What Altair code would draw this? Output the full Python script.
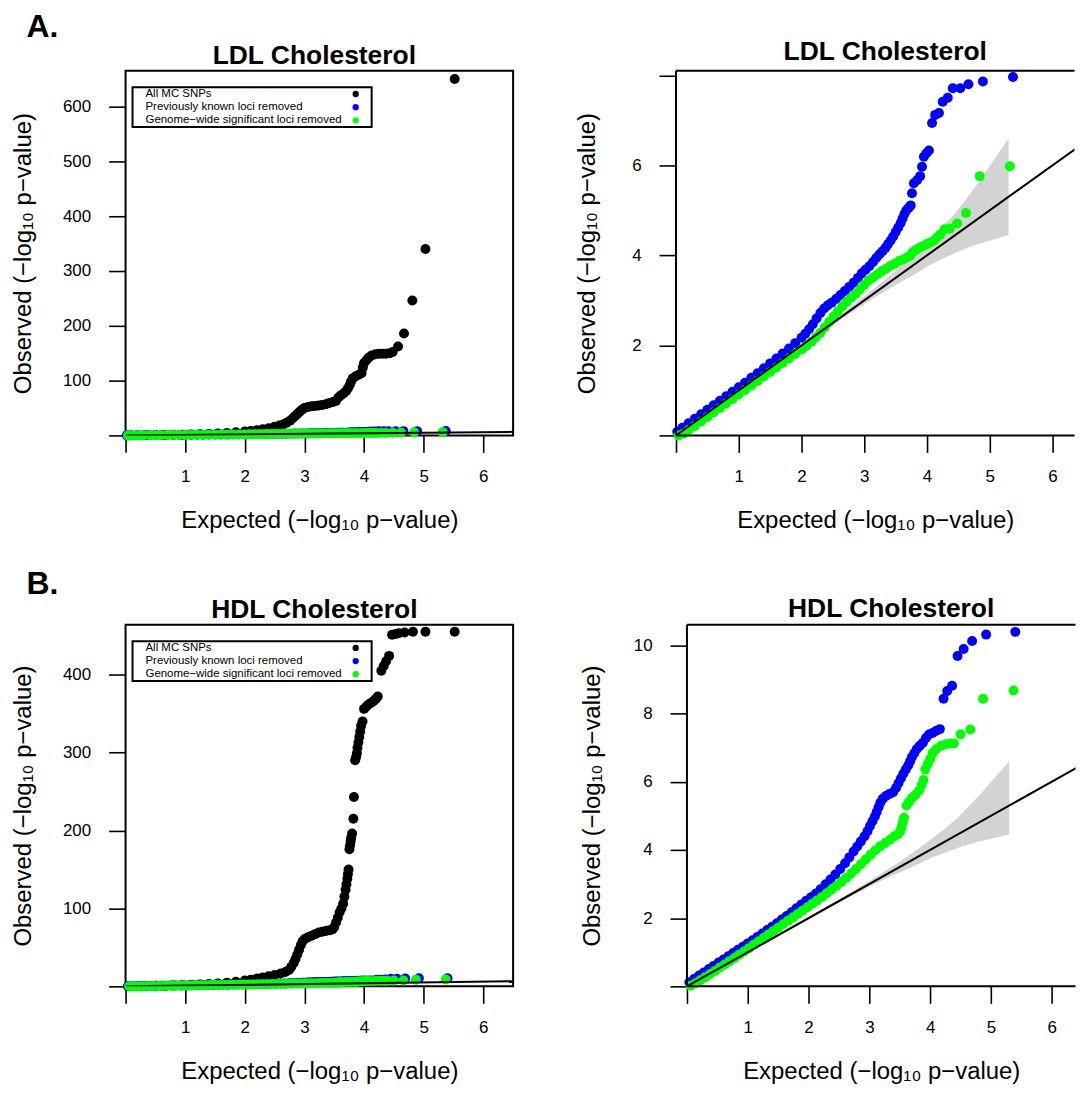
import altair as alt
import pandas as pd

FONT = "Liberation Sans"
BLACK = "#000000"
BLUE = "#0000FF"
GREEN = "#00FF00"
GREY = "#D3D3D3"

# ---------------- data ----------------
ldl_black_x = [0.05, 0.2, 0.35, 0.5, 0.65, 0.8, 0.95, 1.1, 1.25, 1.4, 1.55, 1.7, 1.85, 2.0, 2.1, 2.2, 2.3,
               2.4, 2.5, 2.58, 2.64, 2.7, 2.76, 2.8, 2.84, 2.88, 2.92, 2.96, 3.0, 3.06, 3.12, 3.18, 3.24,
               3.3, 3.36, 3.42, 3.48, 3.53, 3.57, 3.61, 3.66, 3.7, 3.73, 3.76, 3.78, 3.81, 3.86, 3.92,
               3.96, 3.98, 4.0, 4.04, 4.08, 4.13, 4.19, 4.25, 4.31, 4.37, 4.43, 4.48, 4.57, 4.67, 4.81,
               5.03, 5.52]
ldl_black_y = [0.1, 0.3, 0.5, 0.7, 0.9, 1.1, 1.3, 1.6, 2.0, 2.6, 3.4, 4.4, 5.6, 7.0, 8.2, 9.6, 11.2,
               13.0, 16.0, 18.0, 20.0, 23.0, 27.0, 31.0, 35.0, 39.0, 43.0, 47.0, 50.0, 52.0, 53.0, 53.5, 54.5,
               55.5, 57.0, 59.0, 61.0, 63.0, 69.0, 73.0, 77.0, 81.0, 86.0, 92.0, 98.0, 104.0, 108.0, 111.0,
               114.0, 124.0, 132.0, 137.0, 142.0, 146.0, 148.0, 149.0, 149.0, 149.0, 150.0, 152.0, 162.0, 186.0, 246.0,
               340.0, 650.0]

ldl_blue_x = [0.02, 0.1, 0.2, 0.3, 0.4, 0.5, 0.6, 0.7, 0.8, 0.9, 1.0, 1.1, 1.2, 1.3, 1.4, 1.5, 1.6, 1.7, 1.8,
              1.9, 2.0, 2.06, 2.12, 2.18, 2.24, 2.3, 2.36, 2.42, 2.48, 2.55, 2.62, 2.69, 2.76, 2.83, 2.9,
              2.96, 3.02, 3.08, 3.14, 3.19, 3.24, 3.29, 3.34, 3.38, 3.42, 3.46, 3.5, 3.54, 3.58, 3.61,
              3.64, 3.67, 3.71, 3.74, 3.76, 3.79, 3.84, 3.89, 3.92, 3.95, 3.99, 4.03, 4.08, 4.13, 4.19,
              4.25, 4.33, 4.41, 4.53, 4.66, 4.89, 5.37]
ldl_blue_y = [0.08, 0.17, 0.27, 0.37, 0.47, 0.57, 0.67, 0.77, 0.87, 0.97, 1.07, 1.17, 1.28, 1.38, 1.49, 1.6,
              1.71, 1.82, 1.93, 2.05, 2.17, 2.26, 2.36, 2.47, 2.6, 2.72, 2.82, 2.89, 2.95, 3.03, 3.12, 3.21,
              3.3, 3.39, 3.5, 3.6, 3.68, 3.76, 3.85, 3.94, 4.02, 4.09, 4.17, 4.25, 4.33, 4.42, 4.52, 4.62,
              4.72, 4.82, 4.92, 5.0, 5.06, 5.11, 5.38, 5.6, 5.67, 5.76, 5.97, 6.19, 6.27, 6.33, 6.94, 7.12,
              7.16, 7.41, 7.5, 7.71, 7.71, 7.8, 7.86, 7.96]

ldl_green_x = [0.04, 0.12, 0.2, 0.3, 0.4, 0.5, 0.6, 0.7, 0.8, 0.9, 1.0, 1.1, 1.2, 1.3, 1.4, 1.5, 1.6, 1.7,
               1.8, 1.9, 2.0, 2.08, 2.16, 2.23, 2.3, 2.37, 2.44, 2.51, 2.58, 2.65, 2.72, 2.79, 2.86, 2.93,
               3.0, 3.07, 3.14, 3.21, 3.28, 3.35, 3.42, 3.49, 3.56, 3.62, 3.68, 3.73, 3.77, 3.82, 3.88,
               3.94, 4.0, 4.06, 4.11, 4.16, 4.21, 4.28, 4.36, 4.48, 4.62, 4.84, 5.32]
ldl_green_y = [0.0, 0.04, 0.12, 0.21, 0.31, 0.41, 0.51, 0.61, 0.71, 0.81, 0.91, 1.01, 1.11, 1.21, 1.31, 1.41,
               1.51, 1.61, 1.71, 1.81, 1.91, 1.99, 2.08, 2.18, 2.28, 2.4, 2.52, 2.64, 2.76, 2.87, 2.97, 3.06,
               3.14, 3.24, 3.35, 3.44, 3.51, 3.58, 3.65, 3.71, 3.77, 3.82, 3.88, 3.91, 3.95, 3.99, 4.07,
               4.12, 4.17, 4.21, 4.25, 4.29, 4.33, 4.4, 4.46, 4.58, 4.59, 4.71, 4.94, 5.76, 5.98]

hdl_black_x = [0.05, 0.2, 0.35, 0.5, 0.65, 0.8, 0.95, 1.1, 1.25, 1.4, 1.55, 1.7, 1.85, 2.0, 2.1, 2.2, 2.3,
               2.4, 2.5, 2.6, 2.68, 2.74, 2.78, 2.82, 2.85, 2.88, 2.91, 2.94, 2.97, 3.01, 3.06, 3.12, 3.18,
               3.24, 3.3, 3.36, 3.42, 3.47, 3.5, 3.53, 3.56, 3.59, 3.62, 3.65, 3.67, 3.69, 3.705, 3.72,
               3.73, 3.74, 3.755, 3.765, 3.775, 3.785, 3.8, 3.82, 3.83, 3.85, 3.865, 3.88, 3.89, 3.905,
               3.92, 3.935, 3.95, 3.975, 4.0, 4.04, 4.08, 4.12, 4.16, 4.2, 4.23, 4.29, 4.33, 4.37, 4.42,
               4.47, 4.53, 4.58, 4.68, 4.82, 5.03, 5.52]
hdl_black_y = [0.1, 0.3, 0.5, 0.7, 0.9, 1.1, 1.4, 1.8, 2.3, 3.0, 3.8, 4.8, 6.0, 7.4, 8.6, 10.0, 11.5,
               13.0, 14.5, 16.5, 18.5, 21.0, 25.0, 30.0, 35.0, 41.0, 47.0, 53.0, 58.0, 61.0, 63.0, 65.0, 67.0,
               69.0, 70.0, 71.0, 72.0, 73.0, 76.0, 82.0, 88.0, 95.0, 100.0, 106.0, 115.0, 124.0, 131.0, 138.0,
               144.0, 150.0, 176.0, 181.0, 186.0, 191.0, 196.0, 215.0, 243.0, 290.0, 294.0, 299.0, 306.0, 313.0,
               320.0, 327.0, 334.0, 340.0, 356.0, 359.0, 362.0, 364.0, 366.0, 369.0, 372.0, 405.0, 411.0, 417.0,
               424.0, 451.0, 452.0, 453.0, 454.0, 455.0, 455.0, 455.0]

hdl_blue_x = [0.04, 0.12, 0.2, 0.28, 0.36, 0.44, 0.52, 0.6, 0.68, 0.76, 0.84, 0.92, 1.0, 1.08, 1.16, 1.24,
              1.32, 1.4, 1.48, 1.56, 1.64, 1.72, 1.8, 1.88, 1.96, 2.04, 2.12, 2.2, 2.28, 2.36, 2.44, 2.52,
              2.6, 2.67, 2.74, 2.8, 2.86, 2.92, 2.97, 3.01, 3.05, 3.09, 3.12, 3.15, 3.18, 3.22, 3.27, 3.33,
              3.39, 3.44, 3.48, 3.52, 3.56, 3.6, 3.64, 3.67, 3.7, 3.74, 3.78, 3.83, 3.88, 3.93, 3.98, 4.04,
              4.1, 4.16, 4.22, 4.28, 4.36, 4.45, 4.55, 4.69, 4.92, 5.4]
hdl_blue_y = [0.12, 0.22, 0.32, 0.41, 0.51, 0.6, 0.7, 0.79, 0.88, 0.98, 1.07, 1.16, 1.26, 1.35, 1.45, 1.55,
              1.65, 1.75, 1.85, 1.96, 2.06, 2.17, 2.29, 2.4, 2.51, 2.61, 2.72, 2.85, 2.99, 3.13, 3.28, 3.44,
              3.61, 3.78, 3.95, 4.1, 4.25, 4.4, 4.55, 4.7, 4.84, 4.98, 5.11, 5.25, 5.38, 5.5, 5.58, 5.64,
              5.69, 5.82, 5.96, 6.1, 6.24, 6.36, 6.48, 6.6, 6.72, 6.84, 6.96, 7.05, 7.14, 7.28, 7.38, 7.43,
              7.49, 7.54, 8.43, 8.66, 8.81, 9.68, 9.89, 10.12, 10.31, 10.39]

hdl_green_x = [0.06, 0.14, 0.22, 0.3, 0.38, 0.46, 0.54, 0.62, 0.7, 0.78, 0.86, 0.94, 1.02, 1.1, 1.18, 1.26,
               1.34, 1.42, 1.5, 1.58, 1.66, 1.74, 1.82, 1.9, 1.98, 2.06, 2.14, 2.22, 2.3, 2.38, 2.46, 2.54,
               2.62, 2.7, 2.78, 2.86, 2.94, 3.02, 3.1, 3.18, 3.26, 3.34, 3.41, 3.47, 3.51, 3.53, 3.55, 3.57,
               3.61, 3.65, 3.7, 3.76, 3.82, 3.86, 3.89, 3.92, 3.96, 4.0, 4.04, 4.1, 4.18, 4.26, 4.33, 4.39,
               4.5, 4.66, 4.87, 5.37]
hdl_green_y = [0.02, 0.09, 0.18, 0.27, 0.36, 0.45, 0.55, 0.64, 0.74, 0.83, 0.93, 1.02, 1.12, 1.22, 1.32, 1.42,
               1.52, 1.62, 1.72, 1.82, 1.92, 2.02, 2.12, 2.22, 2.32, 2.42, 2.52, 2.62, 2.73, 2.84, 2.95, 3.06,
               3.18, 3.31, 3.44, 3.58, 3.72, 3.86, 3.99, 4.11, 4.2, 4.3, 4.4, 4.46, 4.55, 4.66, 4.8, 4.94,
               5.3, 5.4, 5.52, 5.62, 5.74, 5.9, 6.05, 6.36, 6.52, 6.66, 6.84, 6.95, 7.05, 7.1, 7.12, 7.12,
               7.39, 7.53, 8.43, 8.67]

# 95% band around the null expectation (grey polygon in the right-hand panels)
band_x = [1.0, 1.5, 2.0, 2.5, 3.0, 3.3, 3.53, 3.84, 4.02, 4.19, 4.35, 4.46, 4.6, 4.82, 5.3]
band_lo = [0.99, 1.48, 1.97, 2.45, 2.92, 3.18, 3.37, 3.61, 3.77, 3.88, 3.99, 4.06, 4.14, 4.25, 4.45]
band_hi = [1.01, 1.52, 2.03, 2.55, 3.09, 3.43, 3.69, 4.08, 4.32, 4.55, 4.79, 4.96, 5.21, 5.62, 6.6]

line_x = [0.0, 6.5]
line_y = [0.0, 6.5]

x_ticks = [0, 1, 2, 3, 4, 5, 6]
legend_labels = ["All MC SNPs", "Previously known loci removed", "Genome\u2212wide significant loci removed"]
legend_colors = [BLACK, BLUE, GREEN]

X_TITLE = "Expected (\u2212log\u2081\u2080 p\u2212value)"
Y_TITLE = "Observed (\u2212log\u2081\u2080 p\u2212value)"


def df_xy(xs, ys):
    return pd.DataFrame({"x": xs, "y": ys})


band_df = pd.DataFrame({"x": band_x, "lo": band_lo, "hi": band_hi})
line_df = df_xy(line_x, line_y)


def hide_expr(hidden):
    return "indexof([" + ",".join(str(h) for h in hidden) + "], datum.value) >= 0 ? '' : datum.label"


LEG_ROWS = [23.3, 36.5, 49.7]


def panel(series, xmax, ymax, yticks, yhide, width, height, title, ytp, title_dx, band=False,
          legend=False, open_right=False):
    xsc = alt.Scale(domain=[0, xmax], nice=False, zero=False)
    ysc = alt.Scale(domain=[0, ymax], nice=False, zero=False)
    common = dict(grid=False, domain=False, tickSize=17, tickWidth=1.6, tickColor=BLACK,
                  labelFont=FONT, labelFontSize=17, labelColor=BLACK,
                  labelOverlap=False, titleFont=FONT, titleFontSize=24, titleFontWeight="normal",
                  titleColor=BLACK)
    xax = alt.Axis(values=x_ticks, labelExpr=hide_expr([0]), title=X_TITLE, labelFlush=False,
                   labelPadding=16, titlePadding=24, **common)
    yax = alt.Axis(values=yticks, labelExpr=hide_expr(yhide), title=Y_TITLE, labelPadding=18,
                   titlePadding=ytp, **common)
    X = alt.X("x:Q", scale=xsc, axis=xax)
    Y = alt.Y("y:Q", scale=ysc, axis=yax)
    layers = []
    if band:
        layers.append(alt.Chart(band_df).mark_area(color=GREY, opacity=1).encode(
            x=X, y=alt.Y("lo:Q", scale=ysc, axis=yax), y2="hi:Q"))
    for df, col in series:
        layers.append(alt.Chart(df).mark_circle(color=col, opacity=1, size=100).encode(x=X, y=Y))
    layers.append(alt.Chart(line_df).mark_line(color=BLACK, strokeWidth=2, clip=True).encode(x=X, y=Y))
    if legend:
        dummy = pd.DataFrame({"k": [0]})
        layers.append(alt.Chart(dummy).mark_rect(fill="white", stroke=BLACK, strokeWidth=2).encode(
            x=alt.value(7), x2=alt.value(247), y=alt.value(16.5), y2=alt.value(56.5)))
        for i, (lab, col) in enumerate(zip(legend_labels, legend_colors)):
            d = pd.DataFrame({"label": [lab]})
            layers.append(alt.Chart(d).mark_text(align="left", baseline="middle", font=FONT,
                                                 fontSize=11.5, color=BLACK).encode(
                x=alt.value(20), y=alt.value(LEG_ROWS[i]), text="label:N"))
            layers.append(alt.Chart(d).mark_circle(color=col, size=40, opacity=1).encode(
                x=alt.value(231), y=alt.value(LEG_ROWS[i])))
    props = dict(
        width=width, height=height,
        title=alt.TitleParams(title, font=FONT, fontSize=26.5, fontWeight="bold", color=BLACK,
                              anchor="middle", frame="group", offset=1.2, dx=title_dx))
    if open_right:
        # the frame runs off the right edge of the figure: draw top, left and bottom sides only
        dummy = pd.DataFrame({"k": [0]})
        frame = alt.Chart(dummy).mark_rule(color=BLACK, strokeWidth=2)
        layers.append(frame.encode(x=alt.value(0), x2=alt.value(width), y=alt.value(0)))
        layers.append(frame.encode(x=alt.value(0), x2=alt.value(width), y=alt.value(height)))
        layers.append(frame.encode(x=alt.value(0), y=alt.value(0), y2=alt.value(height)))
        props["view"] = alt.ViewBackground(stroke="transparent")
    return alt.layer(*layers).properties(**props)


ldl_black = df_xy(ldl_black_x, ldl_black_y)
ldl_blue = df_xy(ldl_blue_x, ldl_blue_y)
ldl_green = df_xy(ldl_green_x, ldl_green_y)
hdl_black = df_xy(hdl_black_x, hdl_black_y)
hdl_blue = df_xy(hdl_blue_x, hdl_blue_y)
hdl_green = df_xy(hdl_green_x, hdl_green_y)

left_a = panel([(ldl_black, BLACK), (ldl_blue, BLUE), (ldl_green, GREEN)], 6.5, 665,
               [0, 100, 200, 300, 400, 500, 600], [0], 389, 366, "LDL Cholesterol", 27, -5, legend=True)
right_a = panel([(ldl_blue, BLUE), (ldl_green, GREEN)], 6.35, 8.1, [0, 2, 4, 6, 8], [0, 8], 400, 366,
                "LDL Cholesterol", 32, 10, band=True, open_right=True)
left_b = panel([(hdl_black, BLACK), (hdl_blue, BLUE), (hdl_green, GREEN)], 6.5, 464,
               [0, 100, 200, 300, 400], [0], 389, 363, "HDL Cholesterol", 27, -5, legend=True)
right_b = panel([(hdl_blue, BLUE), (hdl_green, GREEN)], 6.39, 10.6, [0, 2, 4, 6, 8, 10], [0], 390, 363,
                "HDL Cholesterol", 29, 10, band=True, open_right=True)


def row_title(t):
    return alt.TitleParams(t, font=FONT, fontSize=32, fontWeight="bold", color=BLACK, anchor="start",
                           dx=16, offset=-6)


row_a = alt.hconcat(left_a, right_a, spacing=60.5, title=row_title("A."))
row_b = alt.hconcat(left_b, right_b, spacing=65.5, title=row_title("B."))

chart = alt.vconcat(row_a, row_b, spacing=35).configure_view(
    stroke=BLACK, strokeWidth=2
).properties(
    padding={"left": 2, "top": 0, "right": 0, "bottom": 0},
    background="white",
)

chart.save("out.html", embed_options={"renderer": "svg", "actions": False})
